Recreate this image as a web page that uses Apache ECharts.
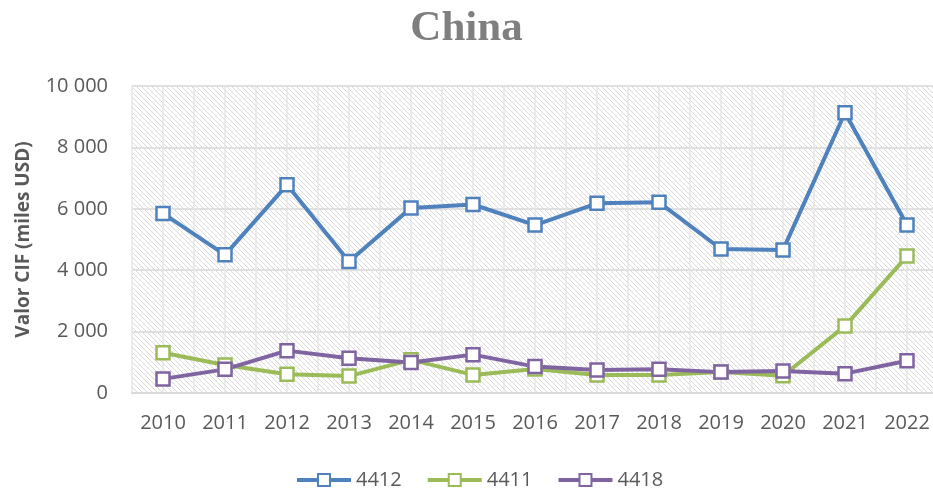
<!DOCTYPE html>
<html>
<head>
<meta charset="utf-8">
<script src="https://cdn.jsdelivr.net/npm/echarts@6/dist/echarts.min.js"></script>
<style>
  html, body { margin: 0; padding: 0; background: #fff; }
  #main { width: 933px; height: 489px; }
</style>
</head>
<body>
<div id="main"></div>
<script>
// datos
var years = ['2010', '2011', '2012', '2013', '2014', '2015', '2016', '2017', '2018', '2019', '2020', '2021', '2022'];
var s4412 = [5850, 4500, 6780, 4280, 6030, 6140, 5470, 6180, 6210, 4690, 4660, 9130, 5470];
var s4411 = [1310, 910, 610, 550, 1080, 590, 780, 590, 590, 680, 560, 2180, 4460];
var s4418 = [460, 770, 1380, 1130, 990, 1250, 860, 750, 770, 680, 720, 630, 1050];

// fondo rayado del área del gráfico
function hatch() {
    var n = 5;
    var c = document.createElement('canvas');
    c.width = n;
    c.height = n;
    var ctx = c.getContext('2d');
    ctx.fillStyle = '#ffffff';
    ctx.fillRect(0, 0, n, n);
    ctx.fillStyle = '#dadada';
    for (var i = 0; i < n; i++) {
        ctx.fillRect(i, i, 1, 1);
    }
    return c;
}

function serie(name, data, color) {
    return {
        name: name,
        type: 'line',
        data: data,
        symbol: 'rect',
        symbolSize: 13,
        lineStyle: { color: color, width: 4 },
        itemStyle: { color: '#ffffff', borderColor: color, borderWidth: 2.5 }
    };
}

var myChart = echarts.init(document.getElementById('main'));

var option = {
    backgroundColor: '#ffffff',
    animation: false,
    title: {
        text: 'China',
        left: 'center',
        top: 2,
        textStyle: {
            fontFamily: 'Liberation Serif',
            fontWeight: 'bold',
            fontSize: 43,
            color: '#7f7f7f'
        }
    },
    legend: {
        left: 290,
        top: 465,
        itemWidth: 54,
        itemHeight: 15,
        itemGap: 24,
        lineStyle: { width: 4 },
        textStyle: { fontFamily: 'Open Sans', fontSize: 20, color: '#595959' },
        data: ['4412', '4411', '4418']
    },
    grid: {
        left: 132,
        width: 806,
        top: 86,
        bottom: 96,
        outerBoundsMode: 'none',
        containLabel: false,
        show: true,
        borderWidth: 0,
        backgroundColor: { image: hatch(), repeat: 'repeat' }
    },
    xAxis: [{
        type: 'category',
        data: years,
        boundaryGap: true,
        axisLine: { lineStyle: { color: '#d9d9d9', width: 2 } },
        axisTick: { show: false },
        splitLine: { show: false },
        axisLabel: { fontFamily: 'Open Sans', fontSize: 20, color: '#595959', margin: 20 }
    }, {
        // eje auxiliar para las líneas verticales cada media categoría
        type: 'value',
        min: 0,
        max: 26,
        interval: 1,
        position: 'top',
        axisLine: { show: false },
        axisTick: { show: false },
        axisLabel: { show: false },
        splitLine: { show: true, lineStyle: { color: '#e6e6e6', width: 1.5 } }
    }],
    yAxis: {
        type: 'value',
        min: 0,
        max: 10000,
        interval: 2000,
        name: 'Valor CIF (miles USD)',
        nameLocation: 'middle',
        nameGap: 99,
        nameTextStyle: { fontFamily: 'Open Sans', fontWeight: 'bold', fontSize: 19, color: '#595959' },
        axisLine: { show: false },
        axisTick: { show: false },
        splitLine: { lineStyle: { color: '#e0e0e0', width: 2 } },
        axisLabel: {
            fontFamily: 'Open Sans',
            fontSize: 20,
            color: '#595959',
            margin: 24,
            formatter: function(v) {
                return String(v).replace(/\B(?=(\d{3})+(?!\d))/g, ' ');
            }
        }
    },
    series: [
        serie('4412', s4412, '#4f81bd'),
        serie('4411', s4411, '#9bbb59'),
        serie('4418', s4418, '#8064a2')
    ]
};

myChart.setOption(option);
</script>
</body>
</html>
